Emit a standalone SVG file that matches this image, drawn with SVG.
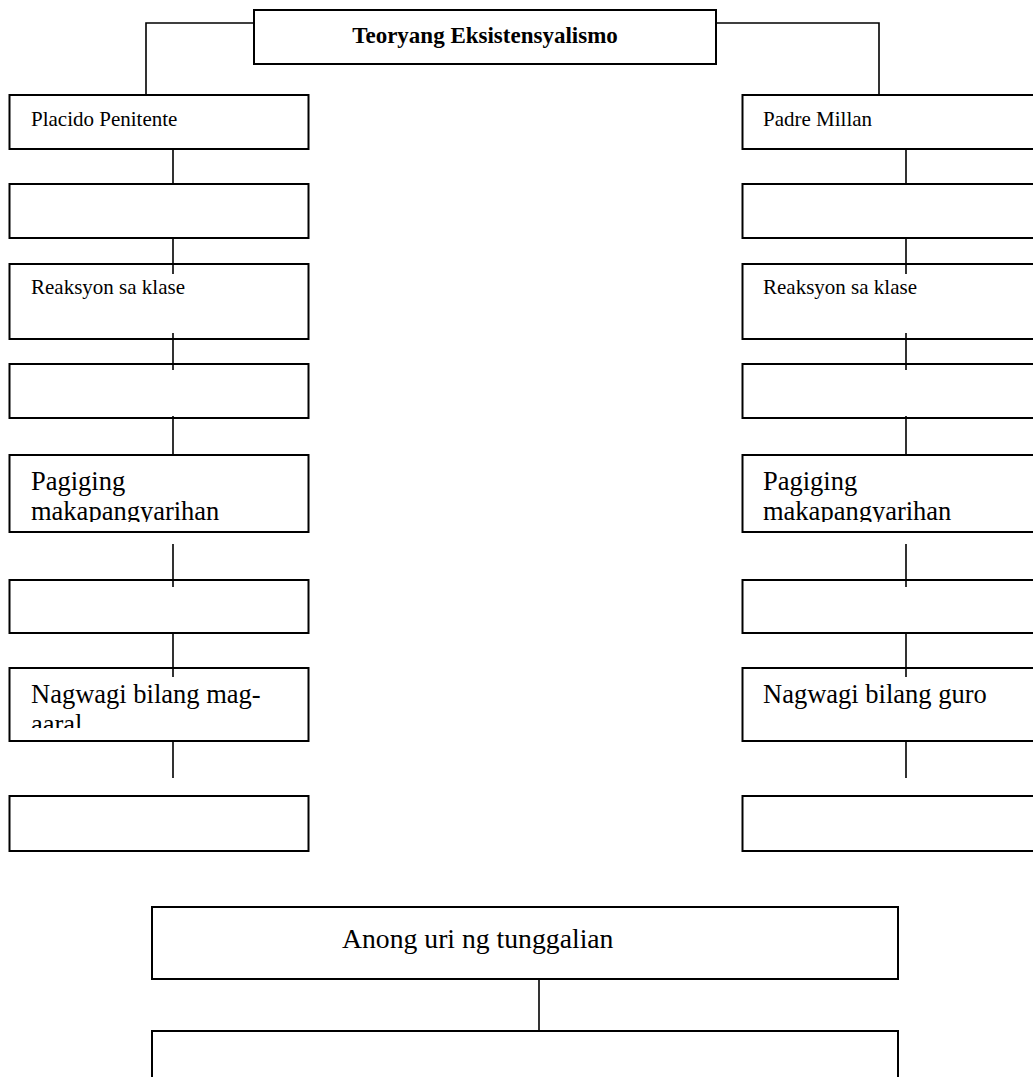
<svg xmlns="http://www.w3.org/2000/svg" width="1033" height="1077" viewBox="0 0 1033 1077">
<style>
.box{fill:#fff;stroke:#000;stroke-width:2}
.ln{stroke:#000;stroke-width:1.6;fill:none}
.t{font-family:"Liberation Serif","Times New Roman",serif;fill:#000}
.s{font-size:21px}
.b{font-size:26.5px}
</style>
<defs>
<clipPath id="c5l"><rect x="10" y="455" width="299" height="67"/></clipPath>
<clipPath id="c7l"><rect x="10" y="668" width="299" height="60"/></clipPath>
<clipPath id="c5r"><rect x="743" y="455" width="299" height="67"/></clipPath>
</defs>
<rect width="1033" height="1077" fill="#fff"/>
<g id="nodes">
<g id="title"><rect class="box" x="254" y="10" width="462" height="54"/><text class="t" x="485" y="43" font-size="23" font-weight="bold" text-anchor="middle">Teoryang Eksistensyalismo</text></g>
<g id="l1"><rect class="box" x="9.5" y="95" width="299" height="54"/><text class="t s" x="31" y="126">Placido Penitente</text></g>
<g id="l2"><rect class="box" x="9.5" y="184" width="299" height="54"/></g>
<g id="l3"><rect class="box" x="9.5" y="264" width="299" height="75"/><text class="t s" x="31" y="294">Reaksyon sa klase</text></g>
<g id="l4"><rect class="box" x="9.5" y="364" width="299" height="54"/></g>
<g id="l5"><rect class="box" x="9.5" y="455" width="299" height="77"/><g clip-path="url(#c5l)"><text class="t b" x="31" y="490">Pagiging</text><text class="t b" x="31" y="520">makapangyarihan</text></g></g>
<g id="l6"><rect class="box" x="9.5" y="580" width="299" height="53"/></g>
<g id="l7"><rect class="box" x="9.5" y="668" width="299" height="73"/><g clip-path="url(#c7l)"><text class="t b" x="31" y="703">Nagwagi bilang mag-</text><text class="t b" x="31" y="733">aaral</text></g></g>
<g id="l8"><rect class="box" x="9.5" y="796" width="299" height="55"/></g>
<g id="r1"><rect class="box" x="742.5" y="95" width="299" height="54"/><text class="t s" x="763" y="126">Padre Millan</text></g>
<g id="r2"><rect class="box" x="742.5" y="184" width="299" height="54"/></g>
<g id="r3"><rect class="box" x="742.5" y="264" width="299" height="75"/><text class="t s" x="763" y="294">Reaksyon sa klase</text></g>
<g id="r4"><rect class="box" x="742.5" y="364" width="299" height="54"/></g>
<g id="r5"><rect class="box" x="742.5" y="455" width="299" height="77"/><g clip-path="url(#c5r)"><text class="t b" x="763" y="490">Pagiging</text><text class="t b" x="763" y="520">makapangyarihan</text></g></g>
<g id="r6"><rect class="box" x="742.5" y="580" width="299" height="53"/></g>
<g id="r7"><rect class="box" x="742.5" y="668" width="299" height="73"/><text class="t b" x="763" y="703">Nagwagi bilang guro</text></g>
<g id="r8"><rect class="box" x="742.5" y="796" width="299" height="55"/></g>
<g id="q1"><rect class="box" x="152" y="907" width="746" height="72"/><text class="t" x="342" y="948" font-size="27.7">Anong uri ng tunggalian</text></g>
<g id="q2"><rect class="box" x="152" y="1031" width="746" height="70"/></g>
</g>
<g id="connectors">
<path class="ln" d="M254 23H146V95"/>
<path class="ln" d="M716 23H879V95"/>
<path class="ln" d="M173 149V184M173 237V274M173 333V370M173 416V455M173 544V587M173 634V677M173 742V778"/>
<path class="ln" d="M906 149V184M906 237V274M906 333V370M906 416V455M906 544V587M906 634V677M906 742V778"/>
<path class="ln" d="M539 979V1031"/>
</g>
</svg>
